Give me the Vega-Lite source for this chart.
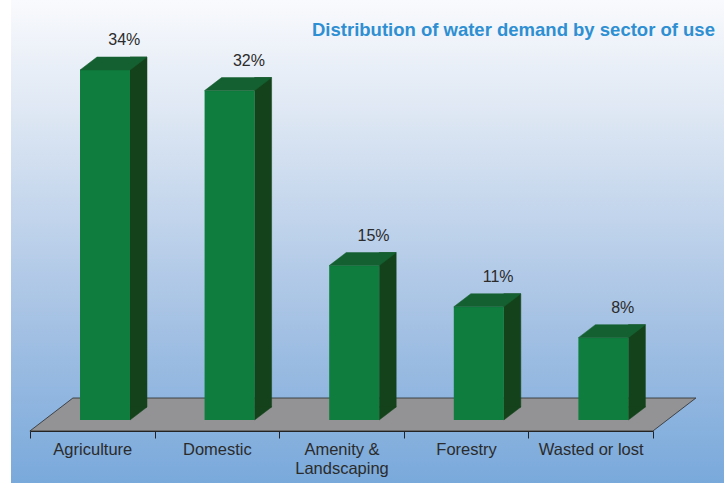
{
  "$schema": "https://vega.github.io/schema/vega-lite/v6.json",
  "width": 713,
  "height": 483,
  "padding": {"left": 11, "top": 0, "right": 0, "bottom": 3},
  "autosize": {"type": "none"},
  "background": "white",
  "title": {
    "text": "Distribution of water demand by sector of use",
    "anchor": "start",
    "frame": "group",
    "offset": 0,
    "dx": 301,
    "dy": 54,
    "baseline": "alphabetic",
    "font": "Liberation Sans",
    "fontSize": 18.5,
    "fontWeight": "bold",
    "color": "#2e8fd2"
  },
  "config": {
    "view": {
      "stroke": null,
      "fill": {
        "gradient": "linear",
        "x1": 0, "y1": 0, "x2": 0, "y2": 1,
        "stops": [
          {"offset": 0, "color": "#f9fafd"},
          {"offset": 0.25, "color": "#dce6f3"},
          {"offset": 0.66, "color": "#a6c2e4"},
          {"offset": 1, "color": "#79a9db"}
        ]
      }
    },
    "font": "Liberation Sans"
  },
  "data": {
    "values": [
      {"sector": "Agriculture", "share": 0.34},
      {"sector": "Domestic", "share": 0.32},
      {"sector": "Amenity & Landscaping", "share": 0.15},
      {"sector": "Forestry", "share": 0.11},
      {"sector": "Wasted or lost", "share": 0.08}
    ]
  },
  "encoding": {
    "x": {
      "field": "sector",
      "type": "nominal",
      "title": null,
      "scale": {
        "domain": ["Agriculture", "Domestic", "Amenity & Landscaping", "Forestry", "Wasted or lost"],
        "range": [19, 642],
        "paddingInner": 0,
        "paddingOuter": 0
      },
      "axis": {
        "orient": "bottom",
        "offset": -52,
        "tickBand": "extent",
        "domainColor": "#222222",
        "domainWidth": 1.2,
        "tickColor": "#222222",
        "tickSize": 7,
        "tickWidth": 1,
        "labelAngle": 0,
        "labelPadding": 3,
        "labelFontSize": 16.5,
        "labelColor": "#2b2b2b",
        "labelLineHeight": 19,
        "labelExpr": "datum.label == 'Amenity & Landscaping' ? ['Amenity &', 'Landscaping'] : datum.label"
      }
    },
    "y": {
      "field": "share",
      "type": "quantitative",
      "title": null,
      "scale": {"domain": [0, 0.34], "range": [420, 70], "nice": false, "zero": true},
      "axis": null
    }
  },
  "layer": [
    {
      "transform": [{"filter": "datum.sector == 'Amenity & Landscaping'"}],
      "mark": {
        "type": "point",
        "filled": true,
        "size": 4,
        "opacity": 1,
        "fill": "#939395",
        "stroke": "#2a2a2a",
        "strokeWidth": 0.8,
        "shape": "M-311.6,11 L311.4,11 L354.4,-22 L-268.6,-22 Z"
      },
      "encoding": {
        "y": {"datum": 0, "type": "quantitative", "title": null, "axis": null}
      }
    },
    {
      "mark": {
        "type": "bar",
        "width": 17,
        "xOffset": 46.2,
        "yOffset": -13,
        "y2Offset": -13,
        "color": "#14431b",
        "stroke": "#14431b",
        "strokeWidth": 0.5
      }
    },
    {
      "mark": {
        "type": "point",
        "filled": true,
        "size": 4,
        "opacity": 1,
        "fill": "#14431b",
        "stroke": "#14431b",
        "strokeWidth": 0.5,
        "shape": "M37.7,-13 L37.7,0 L54.7,-13 Z"
      },
      "encoding": {
        "y": {"datum": 0, "type": "quantitative", "title": null, "axis": null}
      }
    },
    {
      "mark": {
        "type": "bar",
        "width": 50,
        "xOffset": 12.7,
        "color": "#0e7d3e"
      }
    },
    {
      "mark": {
        "type": "point",
        "filled": true,
        "size": 4,
        "opacity": 1,
        "fill": "#156031",
        "stroke": "#156031",
        "strokeWidth": 0.5,
        "shape": "M-12.3,0 L37.7,0 L54.7,-13 L4.7,-13 Z"
      }
    },
    {
      "mark": {
        "type": "text",
        "dx": 32,
        "dy": -30,
        "baseline": "middle",
        "align": "center",
        "fontSize": 16,
        "color": "#2b2b2b"
      },
      "encoding": {
        "text": {"field": "share", "type": "quantitative", "format": ".0%"}
      }
    }
  ]
}
